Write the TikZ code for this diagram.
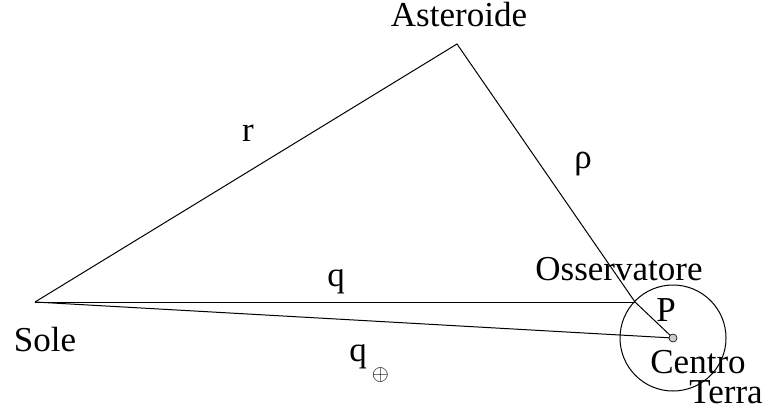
\documentclass[tikz,border=0pt]{standalone}
\usepackage{fontspec}
\setmainfont{Liberation Serif}
\usetikzlibrary{positioning}

\begin{document}
\begin{tikzpicture}[
            x=0.5pt, y=-0.5pt,
            lbl/.style={inner sep=0pt, font=\fontsize{17.5}{21}\selectfont},
            edge/.style={line width=0.5pt}
        ]
        \useasboundingbox (0,0) rectangle (763,413);

        \coordinate (sole) at (35,302);
        \coordinate (ast) at (457,44);
        \coordinate (oss) at (635,302);
        \coordinate (terra) at (673,338);

        \draw[edge] (sole) -- (ast) -- (oss) -- (terra);
        \draw[edge] (sole) -- (oss);
        \draw[edge] (sole) -- (terra);
        \draw[edge] (terra) circle[radius=26.5pt];
        \draw[line width=0.3pt, fill=gray!40] (terra) circle[radius=2pt];

        \node[lbl] (astlbl) at (459,15) {Asteroide};
        \node[lbl] (r) at (248,133) {r};
        \node[lbl] (rho) at (583,164) {ρ};
        \node[lbl] (osslbl) at (619,269) {Osservatore};
        \node[lbl] (q) at (336,282) {q};
        \node[lbl] (p) at (666,310) {P};
        \node[lbl] (solelbl) at (45,340) {Sole};
        \node[lbl, anchor=base west] (qt) at (349,361)
            {q\hspace{2.5pt}\raisebox{-9.5pt}{\fontsize{11}{11}\selectfont$\oplus$}};
        \node[lbl] (centro) at (698,362) {Centro};
        \node[lbl] (terralbl) at (726,392) {Terra};
    \end{tikzpicture}
\end{document}
